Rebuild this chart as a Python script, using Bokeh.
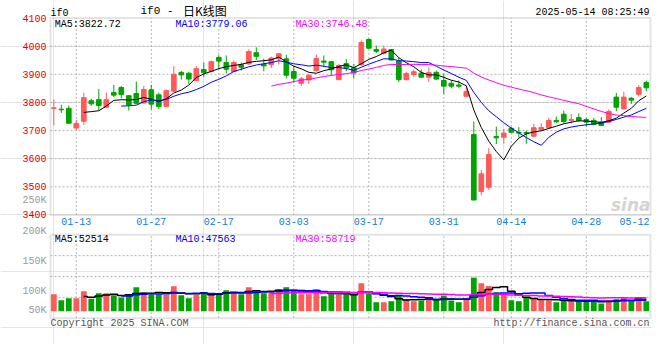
import numpy as np
import pandas as pd
from bokeh.plotting import figure
from bokeh.models import Range1d, Label, BoxAnnotation, ColumnDataSource
from bokeh.embed import file_html
from bokeh.resources import INLINE

# ---------------- data ----------------
dates = ["01-08", "01-09", "01-10", "01-13", "01-14", "01-15", "01-16", "01-17",
         "01-20", "01-21", "01-22", "01-23", "01-24", "01-27",
         "02-05", "02-06", "02-07", "02-10", "02-11", "02-12", "02-13", "02-14",
         "02-17", "02-18", "02-19", "02-20", "02-21", "02-24", "02-25", "02-26",
         "02-27", "02-28",
         "03-03", "03-04", "03-05", "03-06", "03-07", "03-10", "03-11", "03-12",
         "03-13", "03-14", "03-17", "03-18", "03-19", "03-20", "03-21", "03-24",
         "03-25", "03-26", "03-27", "03-28", "03-31",
         "04-01", "04-02", "04-03", "04-07", "04-08", "04-09", "04-10", "04-11",
         "04-14", "04-15", "04-16", "04-17", "04-18", "04-21", "04-22", "04-23",
         "04-24", "04-25", "04-28", "04-29", "04-30",
         "05-06", "05-07", "05-08", "05-09", "05-12", "05-13"]

opens = [3779, 3776, 3779, 3709, 3733, 3806, 3810, 3783, 3835, 3853,
         3824, 3832, 3798, 3845, 3827, 3786, 3840, 3907, 3904, 3878,
         3917, 3910, 3960, 3942, 3910, 3934, 3937, 3977, 3935, 3934,
         3955, 3955, 3910, 3868, 3880, 3913, 3947, 3945, 3881, 3938,
         3923, 3934, 4024, 3988, 3974, 3988, 3947, 3881, 3899, 3904,
         3890, 3907, 3878, 3868, 3862, 3822, 3686, 3483, 3498, 3679,
         3676, 3708, 3694, 3693, 3680, 3704, 3710, 3736, 3758, 3736,
         3746, 3739, 3736, 3730, 3730, 3819, 3777, 3815, 3829, 3871]
highs = [3810, 3792, 3789, 3738, 3835, 3813, 3848, 3835, 3862, 3858,
         3827, 3874, 3859, 3862, 3835, 3846, 3929, 3912, 3909, 3929,
         3942, 3949, 3968, 3967, 3949, 3942, 3988, 3996, 3956, 3963,
         3975, 3970, 3929, 3890, 3902, 3970, 3967, 3945, 3937, 3954,
         3937, 4020, 4027, 4002, 4002, 3990, 3958, 3909, 3917, 3917,
         3925, 3913, 3902, 3878, 3878, 3860, 3732, 3560, 3638, 3714,
         3706, 3712, 3712, 3700, 3724, 3726, 3746, 3750, 3771, 3759,
         3761, 3745, 3745, 3748, 3775, 3834, 3838, 3819, 3861, 3878]
lows = [3718, 3763, 3724, 3702, 3720, 3787, 3771, 3780, 3818, 3815,
        3771, 3795, 3796, 3775, 3777, 3784, 3837, 3881, 3866, 3875,
        3890, 3907, 3917, 3903, 3907, 3913, 3934, 3951, 3911, 3922,
        3935, 3885, 3871, 3858, 3866, 3910, 3925, 3896, 3881, 3911,
        3886, 3930, 3990, 3975, 3970, 3949, 3872, 3878, 3890, 3886,
        3872, 3880, 3830, 3851, 3852, 3818, 3453, 3470, 3489, 3652,
        3653, 3692, 3676, 3653, 3676, 3700, 3706, 3726, 3726, 3724,
        3730, 3714, 3718, 3717, 3727, 3769, 3775, 3795, 3822, 3840]
closes = [3781, 3774, 3726, 3725, 3817, 3795, 3789, 3810, 3826, 3828,
          3791, 3797, 3846, 3794, 3786, 3842, 3900, 3898, 3883, 3920,
          3906, 3945, 3947, 3918, 3942, 3925, 3981, 3964, 3930, 3958,
          3973, 3897, 3886, 3884, 3896, 3956, 3943, 3916, 3931, 3923,
          3905, 4013, 3993, 3982, 3990, 3951, 3881, 3903, 3909, 3890,
          3906, 3883, 3858, 3858, 3858, 3839, 3453, 3546, 3615, 3674,
          3691, 3694, 3691, 3690, 3710, 3711, 3736, 3731, 3732, 3739,
          3736, 3730, 3722, 3718, 3768, 3783, 3819, 3808, 3853, 3852]
volumes = [74400, 48100, 56900, 56900, 87500, 54000, 78800, 78800, 70000, 59800,
           72900, 105000, 83100, 74400, 71500, 71500, 109400, 70000, 56900, 71500,
           83100, 78800, 78800, 91900, 83100, 74400, 105000, 91900, 78800, 87500,
           96300, 105000, 91900, 74400, 74400, 96300, 65600, 74400, 71500, 74400,
           74400, 122500, 75900, 39400, 39400, 43800, 71500, 52500, 43800, 46700,
           54000, 52500, 68600, 46700, 39400, 54000, 147000, 122500, 110540, 83100,
           71500, 48100, 43800, 61300, 55400, 48100, 48100, 39400, 48100, 43800,
           43800, 43800, 43800, 33560, 48100, 52500, 61300, 43800, 61300, 43670]

tick_dates = ["01-13", "01-27", "02-17", "03-03", "03-17", "03-31", "04-14", "04-28", "05-12"]
grid_dates = ["01-13", "01-27", "02-17", "03-03", "03-17", "03-31", "04-14", "04-28"]
price_ticks = [3400, 3500, 3600, 3700, 3800, 3900, 4000, 4100]

title_code = "if0"
title_text = "if0 -"
title_cjk = "日K线图"
stamp = "2025-05-14 08:25:49"
ma_price_texts = ["MA5:3822.72", "MA10:3779.06", "MA30:3746.48"]
ma_vol_texts = ["MA5:52514", "MA10:47563", "MA30:58719"]
vol_labels = ["250K", "200K", "150K", "100K", "50K"]
copyright_text = "Copyright 2025 SINA.COM"
url_text = "http://finance.sina.com.cn"

# ---------------- layout / styles ----------------
W, H = 652, 344
RED = "#ff5a5a"
GREEN = "#00a400"
MA_COLORS = ["#000000", "#0000ff", "#ff00ff"]
GRID_C = "#b4b4b4"
FRAME_C = "#a4a4a4"
MONO = "Liberation Mono"
CHAR_W = 6.0        # px per mono char at 10px
SLOT = 7.5          # px per trading day
X0_PX = 53.3        # px of first candle centre
PRICE_PX = 0.2812   # px per index point
P_REF, P_REF_Y = 4000, 45.7
VOL_PX = 0.0002285  # px per contract
VOL_BASE_Y = 310.7
VOL_PANEL = (-30600, 334400)
PANEL_X = (-0.44, len(dates) - 0.44)
PRICE_PANEL = (3400, 4100)

n = len(dates)
idx = np.arange(n)
df = pd.DataFrame({"x": idx, "o": opens, "h": highs, "l": lows, "c": closes, "v": volumes})
df["top"] = df[["o", "c"]].max(axis=1)
df["bottom"] = df[["o", "c"]].min(axis=1)
df["color"] = np.where(df["c"] >= df["o"], RED, GREEN)
for w in (5, 10, 30):
    df[f"ma{w}"] = df["c"].rolling(w).mean()
    df[f"vma{w}"] = df["v"].rolling(w).mean()
src = ColumnDataSource(df)

pos = {d: i for i, d in enumerate(dates)}
tick_pos = [pos[d] for d in tick_dates]
grid_pos = [pos[d] for d in grid_dates]

xr = Range1d(-X0_PX / SLOT, (W - X0_PX) / SLOT)
yr = Range1d(P_REF - (H - P_REF_Y) / PRICE_PX, P_REF + P_REF_Y / PRICE_PX)
vr = Range1d(-(H - VOL_BASE_Y) / VOL_PX, VOL_BASE_Y / VOL_PX)

p = figure(width=W, height=H, x_range=xr, y_range=yr, output_backend="svg",
           toolbar_location=None, title=None, x_axis_location=None, y_axis_location=None,
           min_border=0)
p.extra_y_ranges = {"vol": vr}
p.outline_line_color = None
p.background_fill_color = "white"
p.border_fill_color = "white"

grid_kw = dict(line_color=GRID_C, line_dash="2 2", line_width=1)
# price panel grid
hy = price_ticks[1:-1]
p.segment(x0=[PANEL_X[0]] * len(hy), x1=[PANEL_X[1]] * len(hy), y0=hy, y1=hy, **grid_kw)
p.segment(x0=grid_pos, x1=grid_pos, y0=[PRICE_PANEL[0]] * len(grid_pos),
          y1=[PRICE_PANEL[1]] * len(grid_pos), **grid_kw)
# volume panel grid (quarters)
vq = [VOL_PANEL[0] + k * (VOL_PANEL[1] - VOL_PANEL[0]) / 4 for k in (1, 2, 3)]
p.segment(x0=[PANEL_X[0]] * 3, x1=[PANEL_X[1]] * 3, y0=vq, y1=vq, y_range_name="vol", **grid_kw)
p.segment(x0=grid_pos, x1=grid_pos, y0=[VOL_PANEL[0]] * len(grid_pos),
          y1=[VOL_PANEL[1]] * len(grid_pos), y_range_name="vol", **grid_kw)

# watermark
p.add_layout(Label(x=650, y=H - 204, x_units="screen", y_units="screen", text="sina",
                   text_color="#d4d4d4", text_font="DejaVu Sans", text_font_size="17px",
                   text_font_style="bold italic", text_align="right", text_baseline="alphabetic",
                   level="underlay"))

# candles
p.segment(x0="x", y0="l", x1="x", y1="h", line_color="color", line_width=1, source=src)
p.vbar(x="x", width=0.62, top="top", bottom="bottom", fill_color="color",
       line_color="color", line_width=1, source=src)
for w, colr in zip((5, 10, 30), MA_COLORS):
    p.line(x="x", y=f"ma{w}", line_color=colr, line_width=1, source=src)

# volume
p.vbar(x="x", width=0.77, top="v", bottom=0, fill_color="color", line_color=None,
       source=src, y_range_name="vol")
for w, colr in zip((5, 10, 30), MA_COLORS):
    p.step(x="x", y=f"vma{w}", mode="center", line_color=colr, line_width=1.5,
           source=src, y_range_name="vol")

# panel borders
p.add_layout(BoxAnnotation(left=PANEL_X[0], right=PANEL_X[1], bottom=PRICE_PANEL[0],
                           top=PRICE_PANEL[1], fill_alpha=0, line_color=FRAME_C, line_width=2))
p.add_layout(BoxAnnotation(left=PANEL_X[0], right=PANEL_X[1], bottom=VOL_PANEL[0],
                           top=VOL_PANEL[1], fill_alpha=0, line_color=FRAME_C, line_width=2,
                           y_range_name="vol"))


def lab(x, y, text, color="#000000", size="10px", font=MONO, align="left",
        xu="screen", yu="screen", x_offset=0):
    # screen y measured from the top of the picture
    yy = H - y if yu == "screen" else y
    p.add_layout(Label(x=x, y=yy, x_units=xu, y_units=yu, text=text, text_color=color,
                       text_font=font, text_font_size=size, text_align=align,
                       text_baseline="middle", x_offset=x_offset))


# top texts
lab(50, 12.7, title_code)
lab(140, 10.5, title_text, size="11px")
lab(182.5, 10.3, title_cjk, size="12px", font="Noto Sans CJK SC")
lab(649, 12, stamp, align="right")
for t, colr, sx in zip(ma_price_texts, MA_COLORS, (54.3, 175, 295)):
    lab(sx, 23.5, t, color=colr)
# price tick labels
for pt in price_ticks:
    lab(46, pt, str(pt), color="#e00000", align="right", yu="data")
# date tick labels (kept inside the panel at the right end)
for tp, d in zip(tick_pos, tick_dates):
    half = len(d) * CHAR_W / 2 / SLOT
    if tp + half > PANEL_X[1]:
        lab(PANEL_X[1], 220.8, d, color="#0a80d8", align="right", xu="data", x_offset=-1)
    else:
        lab(tp, 220.8, d, color="#0a80d8", align="center", xu="data")
# volume labels (as printed on the reference)
for t, yy in zip(vol_labels, (200, 230.8, 261, 291, 310)):
    lab(46, yy, t, color="#999999", align="right")
for t, colr, sx in zip(ma_vol_texts, MA_COLORS, (54.3, 175, 295)):
    lab(sx, 238.5, t, color=colr)
lab(50, 323, copyright_text, color="#555555")
lab(649, 323, url_text, color="#555555", align="right")

open("out.html", "w").write(file_html(p, INLINE))
